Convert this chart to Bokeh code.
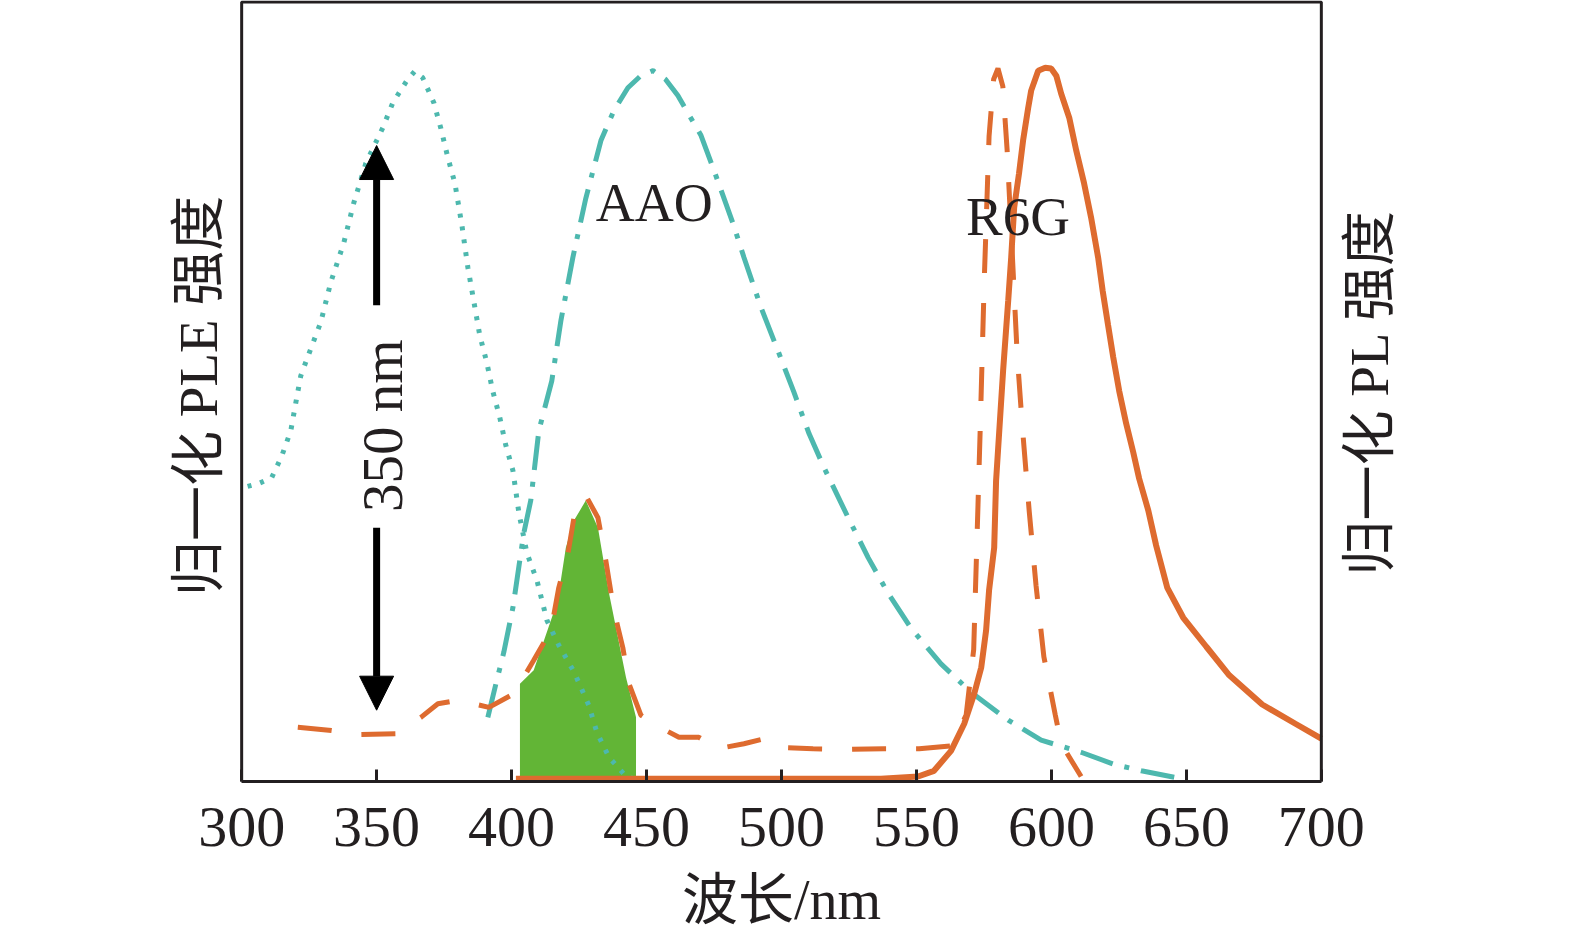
import math

from bokeh.embed import file_html
from bokeh.models import Arrow, BoxAnnotation, FixedTicker, Label, NormalHead, Range1d
from bokeh.plotting import figure
from bokeh.resources import INLINE

TEAL = "#4DB8AE"
ORANGE = "#DE6B2F"
GREEN = "#62B536"
INK = "#231F20"
SERIF = "'Liberation Serif', 'Noto Sans CJK SC'"

# AAO excitation (PLE), dotted
ple_aao_nm = [302.2, 306.3, 311.1, 314.8, 318.2, 320.0, 321.9, 325.6, 329.3, 333.0, 337.8, 341.5,
              346.0, 352.3, 356.0, 361.2, 364.1, 367.1, 371.2, 373.8, 376.4, 379.0, 381.6, 383.8,
              386.4, 388.2, 390.8, 393.0, 395.6, 397.9, 400.5, 402.7, 405.7, 409.4, 413.1, 417.5,
              423.1, 428.6, 431.6, 436.1, 442.4, 447.9]
ple_aao_y = [0.414, 0.418, 0.426, 0.456, 0.492, 0.530, 0.569, 0.607, 0.644, 0.700, 0.755, 0.811,
             0.867, 0.917, 0.952, 0.983, 0.996, 0.987, 0.952, 0.916, 0.875, 0.839, 0.780, 0.721,
             0.665, 0.626, 0.588, 0.548, 0.511, 0.471, 0.436, 0.377, 0.320, 0.282, 0.226, 0.191,
             0.154, 0.107, 0.069, 0.034, 0.007, 0.001]

# AAO emission (PL), dash-dot
pl_aao_nm = [391.2, 394.2, 397.1, 400.5, 404.5, 407.1, 410.1, 414.9, 418.3, 422.7, 427.5, 433.1,
             437.9, 443.1, 447.9, 452.4, 457.0, 461.6, 470.2, 475.0, 482.0, 486.1, 492.4, 498.7,
             504.6, 510.2, 515.8, 524.7, 532.1, 539.5, 548.0, 559.1, 570.3, 584.0, 596.2, 611.0,
             623.3, 633.3, 648.1]
pl_aao_y = [0.090, 0.137, 0.181, 0.244, 0.348, 0.394, 0.492, 0.562, 0.647, 0.735, 0.818, 0.899,
            0.941, 0.973, 0.990, 0.997, 0.985, 0.962, 0.906, 0.857, 0.783, 0.735, 0.665, 0.604,
            0.546, 0.488, 0.440, 0.370, 0.314, 0.264, 0.215, 0.165, 0.125, 0.086, 0.058, 0.041,
            0.024, 0.015, 0.004]

# R6G excitation (PLE), dashed
ple_r6g_nm = [320.8, 332.3, 344.1, 357.1, 366.4, 372.7, 380.1, 391.6, 400.8, 408.2, 414.6, 417.5,
              420.9, 423.1, 427.5, 432.0, 434.9, 437.9, 441.2, 443.5, 447.9, 453.5, 462.0, 469.4,
              476.5, 486.1, 493.5, 498.7, 511.7, 525.0, 538.0, 551.0, 562.8, 568.4, 571.2, 572.8,
              573.6, 575.1, 576.9, 578.6, 580.2, 582.0, 583.6, 585.5, 587.3, 589.2, 591.8, 594.3,
              597.2, 601.4, 603.6, 611.0]
ple_r6g_y = [0.076, 0.072, 0.066, 0.067, 0.090, 0.109, 0.114, 0.104, 0.123, 0.170, 0.212, 0.272,
             0.320, 0.370, 0.401, 0.370, 0.310, 0.240, 0.188, 0.137, 0.093, 0.079, 0.062, 0.062,
             0.046, 0.053, 0.060, 0.048, 0.046, 0.045, 0.046, 0.046, 0.050, 0.093, 0.185, 0.388,
             0.492, 0.701, 0.905, 0.985, 1.000, 0.975, 0.885, 0.740, 0.600, 0.499, 0.378, 0.275,
             0.175, 0.094, 0.053, 0.007]

# R6G emission (PL), solid
pl_r6g_nm = [401.6, 536.9, 550.6, 556.5, 562.8, 567.7, 571.4, 574.0, 575.8, 576.9, 578.8, 579.5,
             582.1, 584.0, 585.1, 586.2, 588.0, 589.5, 591.4, 592.5, 595.1, 597.7, 599.9, 601.8,
             603.6, 606.6, 609.2, 612.1, 614.7, 617.3, 619.0, 621.0, 622.9, 625.1, 627.7, 630.3,
             632.5, 635.9, 638.8, 642.9, 648.8, 657.4, 665.9, 678.1, 690.4, 700.0]
pl_r6g_y = [0.004, 0.004, 0.007, 0.015, 0.043, 0.081, 0.123, 0.160, 0.212, 0.268, 0.328, 0.422,
            0.576, 0.675, 0.735, 0.805, 0.853, 0.899, 0.945, 0.969, 0.997, 1.001, 1.000, 0.990,
            0.965, 0.931, 0.885, 0.839, 0.791, 0.735, 0.688, 0.640, 0.595, 0.548, 0.502, 0.462,
            0.425, 0.380, 0.331, 0.272, 0.230, 0.189, 0.149, 0.108, 0.081, 0.060]

# green overlap band
band_nm = [403.1, 408.2, 417.1, 420.1, 423.1, 427.5, 432.0, 436.1, 442.4, 446.1]
band_top = [0.137, 0.156, 0.254, 0.328, 0.366, 0.394, 0.356, 0.264, 0.146, 0.090]

x_ticks = [300, 350, 400, 450, 500, 550, 600, 650, 700]
X_START, X_END = 300, 700      # plotted wavelength span (the box)
X_PAD = 29.7                   # room inside the frame for the rotated side titles
Y_TOP = 1.0933                 # top edge of the box

p = figure(
    frame_width=1240,
    frame_height=781,
    x_range=Range1d(X_START - X_PAD, X_END + X_PAD),
    y_range=Range1d(0, 1.0954),
    output_backend="svg",
    toolbar_location=None,
    min_border_left=161,
    min_border_right=10,
    min_border_top=0,
    min_border_bottom=0,
)
p.background_fill_color = "white"
p.border_fill_color = "white"
p.grid.visible = False
p.outline_line_color = None
p.yaxis.visible = False

# plot box
p.add_layout(BoxAnnotation(left=X_START, right=X_END, bottom=0, top=Y_TOP,
                           fill_color=None, fill_alpha=0,
                           line_color=INK, line_alpha=1.0, line_width=3))

p.varea(x=band_nm, y1=0, y2=band_top, fill_color=GREEN)
p.line(ple_aao_nm, ple_aao_y, line_color=TEAL, line_width=5, line_dash="4 9")
p.line(pl_aao_nm, pl_aao_y, line_color=TEAL, line_width=5, line_dash="34 12 5 12")
p.line(ple_r6g_nm, ple_r6g_y, line_color=ORANGE, line_width=5, line_dash="34 30")
p.line(pl_r6g_nm, pl_r6g_y, line_color=ORANGE, line_width=6)

xa = p.xaxis[0]
xa.bounds = (X_START, X_END)
xa.ticker = FixedTicker(ticks=x_ticks)
xa.axis_line_width = 3
xa.axis_line_color = INK
xa.major_tick_in = 12
xa.major_tick_out = 0
xa.major_tick_line_width = 3
xa.major_tick_line_color = INK
xa.minor_tick_line_color = None
xa.major_label_standoff = 26
xa.major_label_text_font = SERIF
xa.major_label_text_font_size = "58px"
xa.major_label_text_color = INK
xa.axis_label = "波长/nm"
xa.axis_label_standoff = 20
xa.axis_label_text_font = SERIF
xa.axis_label_text_font_size = "56px"
xa.axis_label_text_font_style = "normal"
xa.axis_label_text_color = INK

# side titles, both reading bottom to top
p.add_layout(Label(x=X_START, y=0.541, x_offset=-43, text="归一化 PLE 强度", angle=math.pi / 2,
                   text_align="center", text_baseline="middle", text_font=SERIF,
                   text_font_size="55px", text_color=INK))
p.add_layout(Label(x=X_END, y=0.546, x_offset=48, text="归一化 PL 强度", angle=math.pi / 2,
                   text_align="center", text_baseline="middle", text_font=SERIF,
                   text_font_size="55px", text_color=INK))

head_up = NormalHead(size=34, fill_color="black", line_color="black")
head_dn = NormalHead(size=34, fill_color="black", line_color="black")
p.add_layout(Arrow(end=head_up, x_start=350, y_start=0.668, x_end=350, y_end=0.892,
                   line_width=7, line_color="black"))
p.add_layout(Arrow(end=head_dn, x_start=350, y_start=0.356, x_end=350, y_end=0.100,
                   line_width=7, line_color="black"))

p.add_layout(Label(x=350, y=0.499, text="350 nm", angle=math.pi / 2, x_offset=6,
                   text_align="center", text_baseline="middle", text_font=SERIF,
                   text_font_size="57px", text_color=INK))
p.add_layout(Label(x=431.2, y=0.812, text="AAO", text_align="left", text_baseline="alphabetic",
                   text_font=SERIF, text_font_size="54px", text_color=INK))
p.add_layout(Label(x=568.4, y=0.793, text="R6G", text_align="left", text_baseline="alphabetic",
                   text_font=SERIF, text_font_size="55px", text_color=INK))

open("out.html", "w").write(file_html(p, INLINE))
